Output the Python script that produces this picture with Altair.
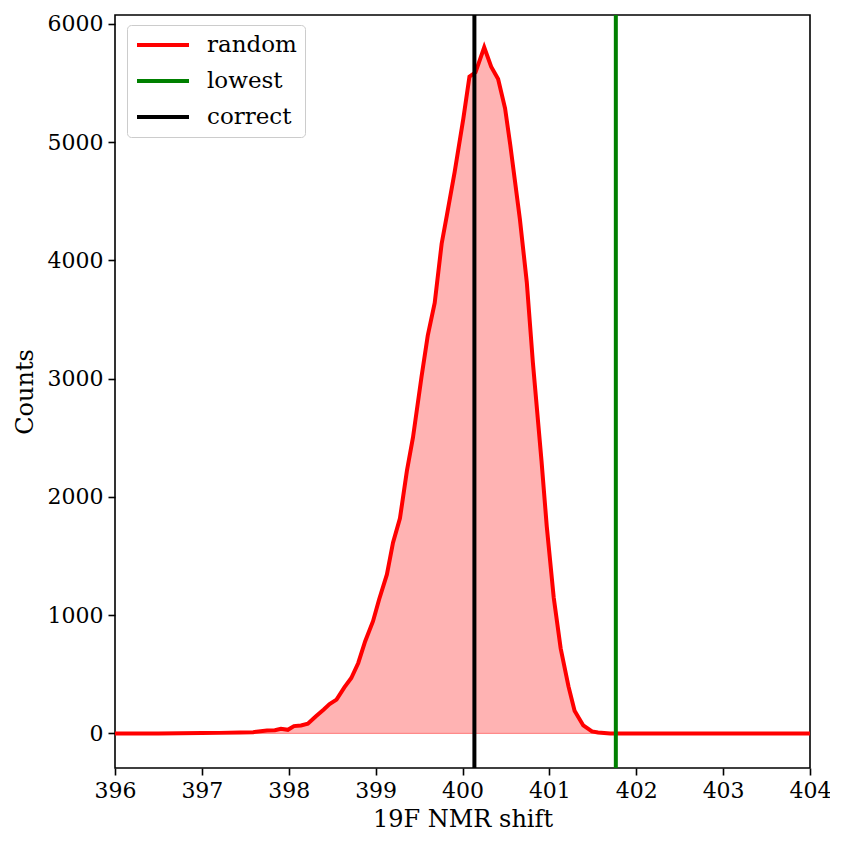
import altair as alt
import pandas as pd

# ---- data ----
shift = [396.0, 396.5, 397.0, 397.2, 397.44, 397.59, 397.75, 397.84, 397.91, 397.99,
         398.06, 398.14, 398.22, 398.31, 398.40, 398.47, 398.55, 398.64, 398.72, 398.80,
         398.88, 398.97, 399.04, 399.13, 399.20, 399.28, 399.36, 399.43, 399.53, 399.60,
         399.68, 399.76, 399.82, 399.91, 400.01, 400.08, 400.15, 400.25, 400.33, 400.41,
         400.49, 400.55, 400.60, 400.66, 400.74, 400.81, 400.91, 400.97, 401.05, 401.13,
         401.22, 401.29, 401.39, 401.49, 401.56, 401.7, 402.0, 404.0]
counts = [0, 0, 4, 5, 8, 11, 25, 28, 40, 31,
          62, 68, 82, 144, 201, 248, 286, 390, 469, 596,
          780, 949, 1133, 1345, 1613, 1819, 2220, 2503, 3025, 3364,
          3641, 4141, 4381, 4748, 5201, 5553, 5590, 5802, 5638, 5534,
          5286, 4975, 4692, 4353, 3816, 3138, 2300, 1750, 1150, 720,
          398, 192, 68, 17, 8, 0, 0, 0]

series_names = ["random", "lowest", "correct"]
series_colors = ["red", "green", "black"]
vline_names = ["lowest", "correct"]
vline_shift = [401.765, 400.137]

x_ticks = [396, 397, 398, 399, 400, 401, 402, 403, 404]
y_ticks = [0, 1000, 2000, 3000, 4000, 5000, 6000]

df = pd.DataFrame({"shift": shift, "counts": counts, "series": "random"})
vdf = pd.DataFrame({"shift": vline_shift, "series": vline_names})

FONT = "DejaVu Serif"

x_enc = alt.X("shift:Q",
              scale=alt.Scale(domain=[396, 404], nice=False, zero=False),
              axis=alt.Axis(values=x_ticks, format="d", title="19F NMR shift",
                            titlePadding=6, labelFlush=False))
y_enc = alt.Y("counts:Q",
              scale=alt.Scale(domain=[-292, 6075], nice=False, zero=False),
              axis=alt.Axis(values=y_ticks, format="d", title="Counts",
                            titlePadding=10, labelFlush=False))

color = alt.Color("series:N",
                  scale=alt.Scale(domain=series_names, range=series_colors),
                  legend=alt.Legend(title=None, orient="none", legendX=12, legendY=10,
                                    symbolType="stroke", symbolSize=2704,
                                    symbolStrokeWidth=4, clipHeight=24, rowPadding=12,
                                    labelOffset=16, padding=8,
                                    labelFont=FONT, labelFontSize=23, labelColor="black",
                                    strokeColor="#cccccc", fillColor="white",
                                    cornerRadius=4))

area = alt.Chart(df).mark_area(color="#ffb3b3", stroke="#ff8a8a", strokeWidth=1.2).encode(
    x=x_enc, y=y_enc, y2=alt.datum(0))
line = alt.Chart(df).mark_line(strokeWidth=4).encode(x=x_enc, y=y_enc, color=color)
rules = alt.Chart(vdf).mark_rule(strokeWidth=4).encode(x=alt.X("shift:Q"), color=color)

chart = alt.layer(area, line, rules).properties(
    width=695, height=753,
    autosize=alt.AutoSizeParams(type="none"),
    padding={"left": 107, "top": 7, "right": 20, "bottom": 70},
).configure_view(
    stroke="black", strokeWidth=1.6
).configure_axis(
    labelFont=FONT, labelFontSize=22, labelColor="black",
    titleFont=FONT, titleFontSize=24, titleFontWeight="normal", titleColor="black",
    tickColor="black", tickSize=7, tickWidth=1.6, labelPadding=5,
    domain=False, grid=False
)

chart.save("out.html", embed_options={"renderer": "svg", "actions": False})
